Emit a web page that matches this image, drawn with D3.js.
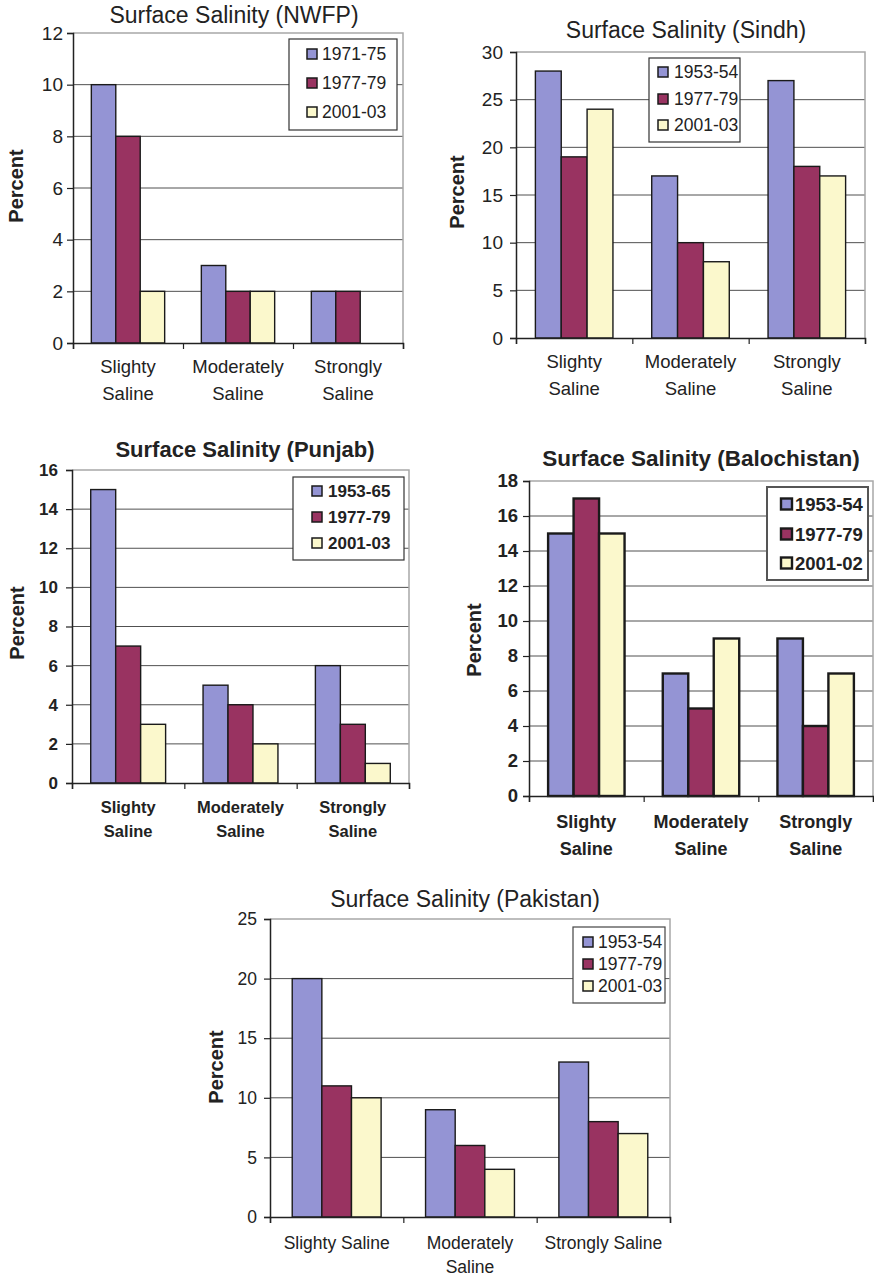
<!DOCTYPE html>
<html>
<head>
<meta charset="utf-8">
<script src="https://cdn.jsdelivr.net/npm/d3@7/dist/d3.min.js"></script>
<style>
  html, body { margin: 0; padding: 0; background: #fff; }
  svg { display: block; font-family: Arial, "Liberation Sans", sans-serif; }
</style>
</head>
<body>
<svg id="chart" width="874" height="1278"></svg>
<script>
// ---------- DATA ----------
const categories = [["Slighty", "Saline"], ["Moderately", "Saline"], ["Strongly", "Saline"]];
const categoriesPakistan = [["Slighty Saline"], ["Moderately", "Saline"], ["Strongly Saline"]];
const colors = ["#9494d4", "#993361", "#fbf8cc"];

const nwfpTitle = "Surface Salinity (NWFP)";
const nwfpSeries = ["1971-75", "1977-79", "2001-03"];
const nwfpValues = [[10, 3, 2], [8, 2, 2], [2, 2, 0]];
const nwfpTicks = [0, 2, 4, 6, 8, 10, 12];

const sindhTitle = "Surface Salinity (Sindh)";
const sindhSeries = ["1953-54", "1977-79", "2001-03"];
const sindhValues = [[28, 17, 27], [19, 10, 18], [24, 8, 17]];
const sindhTicks = [0, 5, 10, 15, 20, 25, 30];

const punjabTitle = "Surface Salinity (Punjab)";
const punjabSeries = ["1953-65", "1977-79", "2001-03"];
const punjabValues = [[15, 5, 6], [7, 4, 3], [3, 2, 1]];
const punjabTicks = [0, 2, 4, 6, 8, 10, 12, 14, 16];

const balTitle = "Surface Salinity (Balochistan)";
const balSeries = ["1953-54", "1977-79", "2001-02"];
const balValues = [[15, 7, 9], [17, 5, 4], [15, 9, 7]];
const balTicks = [0, 2, 4, 6, 8, 10, 12, 14, 16, 18];

const pakTitle = "Surface Salinity (Pakistan)";
const pakSeries = ["1953-54", "1977-79", "2001-03"];
const pakValues = [[20, 9, 13], [11, 6, 8], [10, 4, 7]];
const pakTicks = [0, 5, 10, 15, 20, 25];

const yLabel = "Percent";

// ---------- DRAW ----------
const svg = d3.select("#chart");

function drawChart(cfg) {
  const g = svg.append("g");
  const weight = cfg.bold ? "bold" : "normal";
  const yMax = cfg.ticks[cfg.ticks.length - 1];
  const y = d3.scaleLinear().domain([0, yMax]).range([cfg.bottom, cfg.top]);
  const x0 = d3.scaleBand().domain(d3.range(cfg.cats.length)).range([cfg.left, cfg.right]).padding(0);
  const bw = x0.bandwidth();
  const x1 = d3.scaleBand().domain(d3.range(cfg.series.length)).range([bw / 6, bw - bw / 6]).padding(0);

  // gridlines
  g.append("g").selectAll("line").data(cfg.ticks.filter(t => t > 0 && t < yMax)).join("line")
    .attr("x1", cfg.left).attr("x2", cfg.right)
    .attr("y1", d => y(d)).attr("y2", d => y(d))
    .attr("stroke", "#505050").attr("stroke-width", 1);

  // plot border top/right
  g.append("path")
    .attr("d", `M${cfg.left},${cfg.top}H${cfg.right}V${cfg.bottom}`)
    .attr("fill", "none").attr("stroke", "#a8a8a8").attr("stroke-width", 1.5);

  // bars
  cfg.series.forEach((s, si) => {
    const data = cfg.values[si].map((v, ci) => ({ v, ci })).filter(d => d.v > 0);
    g.append("g").selectAll("rect").data(data).join("rect")
      .attr("x", d => x0(d.ci) + x1(si))
      .attr("y", d => y(d.v))
      .attr("width", x1.bandwidth())
      .attr("height", d => cfg.bottom - y(d.v))
      .attr("fill", colors[si])
      .attr("stroke", "#1a1a1a")
      .attr("stroke-width", cfg.barStroke);
  });

  // y axis
  const yAxis = d3.axisLeft(y).tickValues(cfg.ticks).tickSize(6).tickPadding(cfg.tickPad);
  const ya = g.append("g").attr("transform", `translate(${cfg.left},0)`).call(yAxis);
  ya.select(".domain").attr("stroke", "#222").attr("stroke-width", 1.5);
  ya.selectAll(".tick line").attr("stroke", "#222").attr("stroke-width", 1.2);
  ya.selectAll(".tick text").attr("font-size", cfg.tickFont).attr("font-weight", weight)
    .attr("fill", "#222").attr("font-family", "Arial, 'Liberation Sans', sans-serif");

  // x axis line + separators
  const xa = d3.axisBottom(d3.scaleLinear().domain([0, cfg.cats.length]).range([cfg.left, cfg.right]))
    .tickValues(d3.range(cfg.cats.length + 1)).tickSize(6).tickFormat("");
  const xg = g.append("g").attr("transform", `translate(0,${cfg.bottom})`).call(xa);
  xg.select(".domain").attr("stroke", "#222").attr("stroke-width", 1.5);
  xg.selectAll(".tick line").attr("stroke", "#222").attr("stroke-width", 1.2);

  // category labels
  cfg.cats.forEach((lines, ci) => {
    lines.forEach((ln, li) => {
      g.append("text")
        .attr("x", x0(ci) + bw / 2)
        .attr("y", cfg.bottom + cfg.catOff[li])
        .attr("text-anchor", "middle")
        .attr("font-size", cfg.catFont).attr("font-weight", weight)
        .attr("fill", "#222")
        .text(ln);
    });
  });

  // title
  g.append("text").attr("x", cfg.titleX).attr("y", cfg.titleY)
    .attr("text-anchor", "middle").attr("font-size", cfg.titleFont).attr("font-weight", weight)
    .attr("fill", "#222").text(cfg.title);

  // y label
  g.append("text")
    .attr("transform", `translate(${cfg.ylx},${cfg.yly}) rotate(-90)`)
    .attr("text-anchor", "middle").attr("dominant-baseline", "central")
    .attr("font-size", 20).attr("font-weight", "bold").attr("fill", "#222")
    .text(yLabel);

  // legend
  const L = cfg.legend;
  g.append("rect").attr("x", L.x1).attr("y", L.y1).attr("width", L.x2 - L.x1).attr("height", L.y2 - L.y1)
    .attr("fill", "#fff").attr("stroke", L.stroke).attr("stroke-width", L.sw);
  cfg.series.forEach((s, si) => {
    g.append("rect").attr("x", L.sx).attr("y", L.ys[si] - L.ss / 2).attr("width", L.ss).attr("height", L.ss)
      .attr("fill", colors[si]).attr("stroke", "#1a1a1a").attr("stroke-width", L.ssw);
    g.append("text").attr("x", L.tx).attr("y", L.ys[si]).attr("dominant-baseline", "central")
      .attr("font-size", L.font).attr("font-weight", weight).attr("fill", "#222").text(s);
  });
}

drawChart({
  title: nwfpTitle, series: nwfpSeries, values: nwfpValues, ticks: nwfpTicks, cats: categories, bold: false,
  left: 73, right: 403, top: 33, bottom: 343, barStroke: 1.4, tickPad: 4, tickFont: 19, catFont: 18.5,
  catOff: [30, 57], titleX: 234, titleY: 23, titleFont: 23, ylx: 16, yly: 186,
  legend: { x1: 289, x2: 397, y1: 39, y2: 130, stroke: "#333", sw: 1.2, sx: 307, ss: 10, ssw: 1.5, tx: 322, ys: [54, 83, 112], font: 17.5 }
});

drawChart({
  title: sindhTitle, series: sindhSeries, values: sindhValues, ticks: sindhTicks, cats: categories, bold: false,
  left: 516, right: 865, top: 52, bottom: 338, barStroke: 1.4, tickPad: 7, tickFont: 19, catFont: 18.5,
  catOff: [30, 57], titleX: 686, titleY: 38, titleFont: 23, ylx: 457, yly: 192,
  legend: { x1: 649, x2: 740, y1: 58, y2: 142, stroke: "#333", sw: 1.2, sx: 658, ss: 10, ssw: 1.5, tx: 674, ys: [72, 99, 125], font: 17.5 }
});

drawChart({
  title: punjabTitle, series: punjabSeries, values: punjabValues, ticks: punjabTicks, cats: categories, bold: true,
  left: 72, right: 409, top: 470, bottom: 783, barStroke: 1.4, tickPad: 8, tickFont: 17, catFont: 16.5,
  catOff: [30, 54], titleX: 245, titleY: 457, titleFont: 22, ylx: 17, yly: 623,
  legend: { x1: 293, x2: 404, y1: 477, y2: 560, stroke: "#333", sw: 1.2, sx: 312, ss: 10, ssw: 1.5, tx: 328, ys: [491, 517, 543], font: 17 }
});

drawChart({
  title: balTitle, series: balSeries, values: balValues, ticks: balTicks, cats: categories, bold: true,
  left: 529, right: 873, top: 481, bottom: 796, barStroke: 2.4, tickPad: 5, tickFont: 18.5, catFont: 18,
  catOff: [32, 59], titleX: 701, titleY: 466, titleFont: 22.5, ylx: 474, yly: 640,
  legend: { x1: 767, x2: 868, y1: 487, y2: 580, stroke: "#555", sw: 2, sx: 781, ss: 11, ssw: 2.4, tx: 795, ys: [504, 534, 563], font: 18.5 }
});

drawChart({
  title: pakTitle, series: pakSeries, values: pakValues, ticks: pakTicks, cats: categoriesPakistan, bold: false,
  left: 270, right: 670, top: 919, bottom: 1217, barStroke: 1.4, tickPad: 7, tickFont: 17.5, catFont: 17.5,
  catOff: [32, 56], titleX: 465, titleY: 907, titleFont: 23, ylx: 216, yly: 1067,
  legend: { x1: 573, x2: 665, y1: 927, y2: 1003, stroke: "#444", sw: 1.2, sx: 583, ss: 10, ssw: 1.5, tx: 598, ys: [942, 964, 986], font: 17.5 }
});
</script>
</body>
</html>
